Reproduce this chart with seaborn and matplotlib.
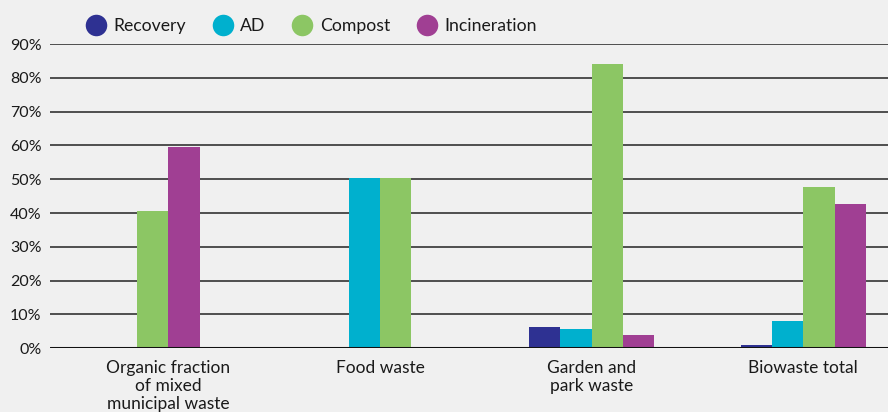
import matplotlib
matplotlib.use("Agg")
import matplotlib.pyplot as plt
from matplotlib.lines import Line2D
import seaborn as sns
import pandas as pd

categories = ["Organic fraction\nof mixed\nmunicipal waste", "Food waste",
              "Garden and\npark waste", "Biowaste total"]
series = ["Recovery", "AD", "Compost", "Incineration"]
recovery = [None, None, 6.2, 0.9]
ad = [None, 50.3, 5.6, 8.0]
compost = [40.5, 50.3, 84.0, 47.6]
incineration = [59.5, None, 3.8, 42.6]
yticks = [0, 10, 20, 30, 40, 50, 60, 70, 80, 90]
colors = {"Recovery": "#2e3192", "AD": "#00b0ce", "Compost": "#8cc664", "Incineration": "#a03f93"}

rows = []
for i, c in enumerate(categories):
    for s, vals in zip(series, [recovery, ad, compost, incineration]):
        if vals[i] is not None:
            rows.append({"category": c, "series": s, "value": vals[i]})
df = pd.DataFrame(rows)

sns.set_style("white")
plt.rcParams["font.family"] = ["Lato", "DejaVu Sans"]
bg = "#f0f0f0"
fig = plt.figure(figsize=(8.88, 4.12), dpi=100, facecolor=bg)
ax = fig.add_axes([0.056, 0.155, 0.944, 0.738], facecolor=bg)

bar_w = 0.148
for c in categories:
    sub = df[df["category"] == c]
    present = [s for s in series if s in set(sub["series"])]
    sns.barplot(data=sub, x="category", y="value", hue="series", order=categories,
                hue_order=present, palette=colors, width=bar_w * len(present),
                ax=ax, legend=False, saturation=1, edgecolor="none")

ax.set_ylim(0, 90)
ax.set_xlim(-0.56, 3.40)
ax.set_yticks(yticks)
ax.set_yticklabels([f"{t}%" for t in yticks])
for t in yticks[1:]:
    ax.axhline(t, color="#222222", lw=1.1, zorder=0)
ax.axhline(0, color="#111111", lw=2.2, zorder=5)
for sp in ax.spines.values():
    sp.set_visible(False)
ax.tick_params(axis="both", length=0, colors="#1a1a1a")
ax.tick_params(axis="y", pad=6, labelsize=11.5)
ax.tick_params(axis="x", pad=8.5, labelsize=12.5)
for lab in ax.get_xticklabels():
    lab.set_linespacing(1.17)
ax.set_xlabel("")
ax.set_ylabel("")

handles = [Line2D([], [], marker="o", ls="none", markersize=15.5, markerfacecolor=colors[s],
                  markeredgecolor="none") for s in series]
fig.legend(handles, series, loc="upper left", bbox_to_anchor=(0.078, 0.995), ncol=4,
           frameon=False, fontsize=12.7, handletextpad=0.4, columnspacing=1.48,
           handlelength=1.2, labelcolor="#1a1a1a")

fig.savefig("out.png", dpi=100, facecolor=bg)
